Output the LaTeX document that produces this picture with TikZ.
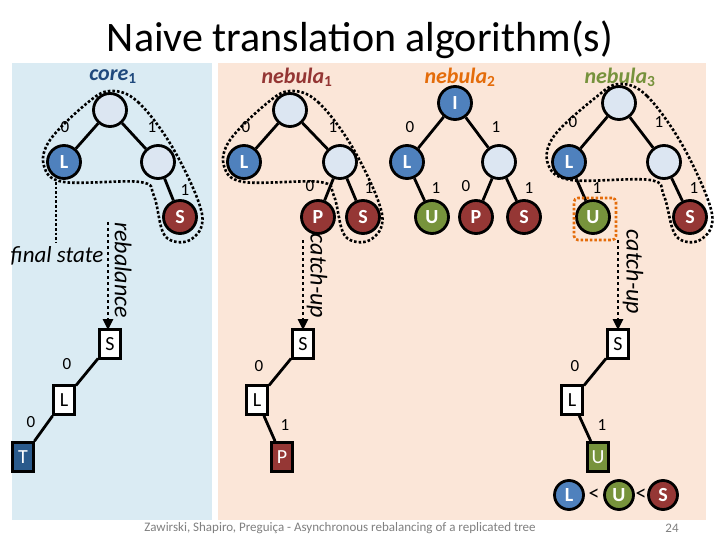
\documentclass[tikz,border=0pt]{standalone}
\usepackage{fontspec}
\setmainfont{Carlito}
\usetikzlibrary{arrows.meta}
\definecolor{bgblue}{HTML}{DAEBF3}
\definecolor{bgpeach}{HTML}{FBE6D8}
\definecolor{nblue}{HTML}{4F81BD}
\definecolor{nlight}{HTML}{DCE6F2}
\definecolor{nred}{HTML}{953735}
\definecolor{ngreen}{HTML}{77933C}
\definecolor{ndark}{HTML}{2B5B8C}
\definecolor{ttblue}{HTML}{1F497D}
\definecolor{ttred}{HTML}{943634}
\definecolor{ttorange}{HTML}{E46C0A}
\definecolor{ttgreen}{HTML}{76923C}
\tikzset{
 nd/.style={circle,draw=black,line width=2.8pt,minimum size=33pt,inner sep=0pt,font=\bfseries\fontsize{20}{20}\selectfont,text=white},
 blu/.style={nd,fill=nblue},
 lgt/.style={nd,fill=nlight},
 red/.style={nd,fill=nred},
 grn/.style={nd,fill=ngreen},
 sq/.style={rectangle,draw=black,line width=2.8pt,fill=white,minimum width=21pt,minimum height=29pt,inner sep=0pt,font=\fontsize{20}{20}\selectfont},
 edge/.style={line width=2.8pt},
 lab/.style={font=\fontsize{17}{17}\selectfont},
 outl/.style={dotted,line width=2.6pt},
 arr/.style={dashed,line width=2.6pt,-{Triangle[length=11pt,width=10pt]}},
 ttl/.style={font=\bfseries\itshape\fontsize{22}{22}\selectfont},
 vlab/.style={font=\itshape\fontsize{24}{24}\selectfont,rotate=-90}
}
\begin{document}
\begin{tikzpicture}[x=1pt,y=-1pt]
\useasboundingbox (0,0) rectangle (720,540);
\fill[white] (0,0) rectangle (720,540);
\fill[bgblue] (12,63) rectangle (212,520);
\fill[bgpeach] (218,63) rectangle (706,520);
\node[font=\fontsize{42}{42}\selectfont] (title) at (360,40) {Naive translation algorithm(s)};
\node[ttl,text=ttblue] (t0) at (113,77) {core$_{\mathbf 1}$};
\node[ttl,text=ttred] (t1) at (297,77) {nebula$_{\mathbf 1}$};
\node[ttl,text=ttorange] (t2) at (460,77) {nebula$_{\mathbf 2}$};
\node[ttl,text=ttgreen] (t3) at (620,77) {nebula$_{\mathbf 3}$};
% outlines
\draw[outl] plot[smooth cycle,tension=0.6] coordinates {(110,91) (138,102) (174,150) (202,214) (190,240) (165,236) (154,196) (140,182) (64,182) (44,166) (50,140) (86,104)};
\draw[outl] plot[smooth cycle,tension=0.6] coordinates {(290,91) (318,102) (354,150) (382,214) (370,240) (345,236) (334,196) (320,182) (244,182) (224,166) (230,140) (266,104)};
\draw[outl] plot[smooth cycle,tension=0.6] coordinates {(619,84) (647,96) (684,148) (712,214) (700,240) (676,236) (664,196) (650,180) (571,180) (548,164) (554,136) (595,98)};
% core1
\node[lgt] (c0) at (110,110) {};
\node[blu] (c1) at (64,162) {L};
\node[lgt] (c2) at (158,162) {};
\node[red] (c3) at (180,217) {S};
\draw[edge] (c0)--(c1) (c0)--(c2) (c2)--(c3);
\node[lab] at (65,127) {0};
\node[lab] at (152,127) {1};
\node[lab] at (185,190) {1};
\coordinate (fs) at (56,243);
\draw[outl] (56,182)--(fs);
\node[font=\itshape\fontsize{23}{23}\selectfont] (fst) at (57,256) {final state};
\coordinate (a0s) at (108,222); \coordinate (a0e) at (108,330);
\draw[arr] (a0s)--(a0e);
\node[vlab] (rb) at (123,270) {rebalance};
% nebula1
\node[lgt] (n0) at (290,110) {};
\node[blu] (n1) at (244,162) {L};
\node[lgt] (n2) at (340,162) {};
\node[red] (n3) at (318,217) {P};
\node[red] (n4) at (363,217) {S};
\draw[edge] (n0)--(n1) (n0)--(n2) (n2)--(n3) (n2)--(n4);
\node[lab] at (246,127) {0};
\node[lab] at (333,127) {1};
\node[lab] at (310,186) {0};
\node[lab] at (369,188) {1};
\coordinate (a1s) at (303,240); \coordinate (a1e) at (303,330);
\draw[arr] (a1s)--(a1e);
\node[vlab] (cu1) at (317,276) {catch-up};
% nebula2
\node[blu] (m0) at (455,103) {I};
\node[blu] (m1) at (407,162) {L};
\node[lgt] (m2) at (499,162) {};
\node[grn] (m3) at (432,217) {U};
\node[red] (m4) at (476,217) {P};
\node[red] (m5) at (524,217) {S};
\draw[edge] (m0)--(m1) (m0)--(m2) (m1)--(m3) (m2)--(m4) (m2)--(m5);
\node[lab] at (410,127) {0};
\node[lab] at (496,127) {1};
\node[lab] at (436,188) {1};
\node[lab] at (466,186) {0};
\node[lab] at (529,188) {1};
% nebula3
\node[lgt] (p0) at (619,103) {};
\node[blu] (p1) at (569,162) {L};
\node[lgt] (p2) at (664,162) {};
\node[grn] (p3) at (593,217) {U};
\node[red] (p4) at (690,217) {S};
\draw[edge] (p0)--(p1) (p0)--(p2) (p1)--(p3) (p2)--(p4);
\node[lab] at (573,122) {0};
\node[lab] at (659,122) {1};
\node[lab] at (597,188) {1};
\node[lab] at (694,188) {1};
\node[draw=ttorange,dotted,line width=2.6pt,rounded corners=4pt,minimum size=42pt] (hl) at (595,219) {};
\coordinate (a3s) at (618,240); \coordinate (a3e) at (618,330);
\draw[arr] (a3s)--(a3e);
\node[vlab] (cu3) at (633,272) {catch-up};
% bottom trees
\node[sq] (b0) at (110,344) {S};
\node[sq] (b1) at (64,400) {L};
\node[sq,fill=ndark,text=white] (b2) at (23,457) {T};
\draw[edge] (b0)--(b1) (b1)--(b2);
\node[lab] at (67,364) {0};
\node[lab] at (31,422) {0};
\node[sq] (d0) at (303,344) {S};
\node[sq] (d1) at (257,400) {L};
\node[sq,fill=nred,text=white] (d2) at (282,457) {P};
\draw[edge] (d0)--(d1) (d1)--(d2);
\node[lab] at (259,366) {0};
\node[lab] at (285,425) {1};
\node[sq] (e0) at (618,344) {S};
\node[sq] (e1) at (572,400) {L};
\node[sq,fill=ngreen,text=white] (e2) at (598,457) {U};
\draw[edge] (e0)--(e1) (e1)--(e2);
\node[lab] at (575,366) {0};
\node[lab] at (602,425) {1};
% legend
\node[blu,minimum size=29pt] (gL) at (569,495) {L};
\node[grn,minimum size=29pt] (gU) at (619,495) {U};
\node[red,minimum size=29pt] (gS) at (663,495) {S};
\node[font=\fontsize{22}{22}\selectfont] at (594,495) {<};
\node[font=\fontsize{22}{22}\selectfont] at (641,495) {<};
\node[font=\fontsize{13}{13}\selectfont,text=gray] (ft) at (340,528) {Zawirski, Shapiro, Preguiça - Asynchronous rebalancing of a replicated tree};
\node[font=\fontsize{13}{13}\selectfont,text=gray] (pg) at (672,528) {24};
\end{tikzpicture}
\end{document}
